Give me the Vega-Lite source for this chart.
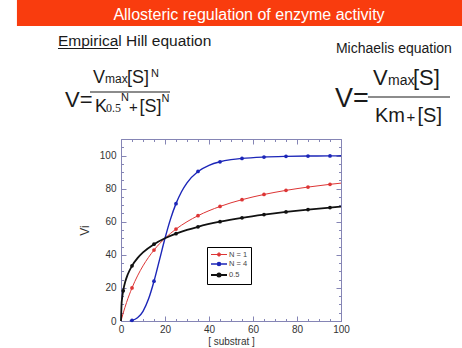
{
  "$schema": "https://vega.github.io/schema/vega-lite/v6.json",
  "autosize": {"type": "none"},
  "padding": {"left": 121, "top": 139, "right": 121, "bottom": 27},
  "width": 220,
  "height": 182,
  "background": "white",
  "config": {
    "view": {"stroke": "#8585b5", "strokeWidth": 1},
    "font": "Liberation Sans",
    "axis": {"grid": false, "domain": false, "labelFlush": false, "tickColor": "#8585b5", "labelFont": "Liberation Sans", "titleFont": "Liberation Sans"}
  },
  "resolve": {"axis": {"x": "independent", "y": "independent"}},
  "layer": [
    {
      "data": {"values": [{"x0": -47.3, "x1": 160, "y0": 178.3, "y1": 200}]},
      "mark": {"type": "rect", "color": "#f93c0e", "clip": false},
      "encoding": {
        "x": {"field": "x0", "type": "quantitative", "scale": {"domain": [0, 100], "nice": false, "zero": false},
              "axis": {"orient": "top", "values": [0, 20, 40, 60, 80, 100], "tickSize": -5, "labels": false, "title": null}},
        "x2": {"field": "x1"},
        "y": {"field": "y0", "type": "quantitative", "scale": {"domain": [0, 110], "nice": false, "zero": false},
              "axis": {"orient": "right", "values": [0, 20, 40, 60, 80, 100], "tickSize": -5, "labels": false, "title": null}},
        "y2": {"field": "y1"}
      }
    },
    {
      "data": {"values": [{"t": "Allosteric regulation of enzyme activity", "s": 58.18, "v": 181.9}]},
      "mark": {"type": "text", "color": "white", "fontSize": 16, "align": "center", "baseline": "alphabetic", "clip": false},
      "encoding": {
        "x": {"field": "s", "type": "quantitative",
              "axis": {"orient": "top", "values": [0,5,10,15,20,25,30,35,40,45,50,55,60,65,70,75,80,85,90,95,100], "tickSize": -2.5, "labels": false, "title": null}},
        "y": {"field": "v", "type": "quantitative",
              "axis": {"orient": "right", "values": [0,5,10,15,20,25,30,35,40,45,50,55,60,65,70,75,80,85,90,95,100,105], "tickSize": -2.5, "labels": false, "title": null}},
        "text": {"field": "t"}
      }
    },
    {
      "data": {"values": [{"t": "Empirical Hill equation", "s": -28.64, "v": 166.2}]},
      "mark": {"type": "text", "color": "#1a1a1a", "fontSize": 15.5, "align": "left", "baseline": "alphabetic", "clip": false},
      "encoding": {
        "x": {"field": "s", "type": "quantitative", "axis": null},
        "y": {"field": "v", "type": "quantitative", "axis": null},
        "text": {"field": "t"}
      }
    },
    {
      "data": {"values": [{"t": "Michaelis equation", "s": 97.7, "v": 161.98}]},
      "mark": {"type": "text", "color": "#1a1a1a", "fontSize": 14, "align": "left", "baseline": "alphabetic", "clip": false},
      "encoding": {
        "x": {"field": "s", "type": "quantitative", "axis": null},
        "y": {"field": "v", "type": "quantitative", "axis": null},
        "text": {"field": "t"}
      }
    },
    {
      "data": {"values": [
        {"s": -28.64, "s2": -1.36, "v": 164.7},
        {"s": -14.09, "s2": 22.27, "v": 138.41},
        {"s": 112.27, "s2": 149.55, "v": 135.39}
      ]},
      "mark": {"type": "rule", "color": "#1a1a1a", "strokeWidth": 1.2, "clip": false},
      "encoding": {
        "x": {"field": "s", "type": "quantitative", "axis": null},
        "x2": {"field": "s2"},
        "y": {"field": "v", "type": "quantitative", "axis": null}
      }
    },
    {
      "data": {"values": [
        {"t": "V=", "s": -25.45, "v": 129.34},
        {"t": "V", "s": 114.55, "v": 142.64},
        {"t": "[S]", "s": 132.73, "v": 142.64}
      ]},
      "mark": {"type": "text", "color": "#1a1a1a", "fontSize": 22, "align": "left", "baseline": "alphabetic", "clip": false},
      "encoding": {
        "x": {"field": "s", "type": "quantitative", "axis": null},
        "y": {"field": "v", "type": "quantitative", "axis": null},
        "text": {"field": "t"}
      }
    },
    {
      "data": {"values": [{"t": "V=", "s": 97.27, "v": 129.34}]},
      "mark": {"type": "text", "color": "#1a1a1a", "fontSize": 27, "align": "left", "baseline": "alphabetic", "clip": false},
      "encoding": {
        "x": {"field": "s", "type": "quantitative", "axis": null},
        "y": {"field": "v", "type": "quantitative", "axis": null},
        "text": {"field": "t"}
      }
    },
    {
      "data": {"values": [
        {"t": "V", "s": -12.73, "v": 143.85},
        {"t": "[S]", "s": 2.73, "v": 143.85},
        {"t": "K", "s": -11.82, "v": 126.32},
        {"t": "[S]", "s": 8.4, "v": 126.32}
      ]},
      "mark": {"type": "text", "color": "#1a1a1a", "fontSize": 18, "align": "left", "baseline": "alphabetic", "clip": false},
      "encoding": {
        "x": {"field": "s", "type": "quantitative", "axis": null},
        "y": {"field": "v", "type": "quantitative", "axis": null},
        "text": {"field": "t"}
      }
    },
    {
      "data": {"values": [
        {"t": "+", "s": 3.64, "v": 126.32},
        {"t": "+", "s": 129.8, "v": 120.28}
      ]},
      "mark": {"type": "text", "color": "#1a1a1a", "fontSize": 15, "align": "left", "baseline": "alphabetic", "clip": false},
      "encoding": {
        "x": {"field": "s", "type": "quantitative", "axis": null},
        "y": {"field": "v", "type": "quantitative", "axis": null},
        "text": {"field": "t"}
      }
    },
    {
      "data": {"values": [
        {"t": "Km", "s": 115.45, "v": 120.28},
        {"t": "[S]", "s": 134.8, "v": 120.28}
      ]},
      "mark": {"type": "text", "color": "#1a1a1a", "fontSize": 20, "align": "left", "baseline": "alphabetic", "clip": false},
      "encoding": {
        "x": {"field": "s", "type": "quantitative", "axis": null},
        "y": {"field": "v", "type": "quantitative", "axis": null},
        "text": {"field": "t"}
      }
    },
    {
      "data": {"values": [{"t": "max", "s": -7.27, "v": 143.85}]},
      "mark": {"type": "text", "color": "#1a1a1a", "fontSize": 12, "align": "left", "baseline": "alphabetic", "clip": false},
      "encoding": {
        "x": {"field": "s", "type": "quantitative", "axis": null},
        "y": {"field": "v", "type": "quantitative", "axis": null},
        "text": {"field": "t"}
      }
    },
    {
      "data": {"values": [{"t": "max", "s": 121.36, "v": 142.64}]},
      "mark": {"type": "text", "color": "#1a1a1a", "fontSize": 14, "align": "left", "baseline": "alphabetic", "clip": false},
      "encoding": {
        "x": {"field": "s", "type": "quantitative", "axis": null},
        "y": {"field": "v", "type": "quantitative", "axis": null},
        "text": {"field": "t"}
      }
    },
    {
      "data": {"values": [
        {"t": "N", "s": 13.64, "v": 147.48},
        {"t": "N", "s": 0.0, "v": 132.97},
        {"t": "N", "s": 18.4, "v": 132.37}
      ]},
      "mark": {"type": "text", "color": "#1a1a1a", "fontSize": 11, "align": "left", "baseline": "alphabetic", "clip": false},
      "encoding": {
        "x": {"field": "s", "type": "quantitative", "axis": null},
        "y": {"field": "v", "type": "quantitative", "axis": null},
        "text": {"field": "t"}
      }
    },
    {
      "data": {"values": [{"t": "0.5", "s": -6.82, "v": 126.32}]},
      "mark": {"type": "text", "color": "#1a1a1a", "font": "Liberation Serif", "fontSize": 12, "align": "left", "baseline": "alphabetic", "clip": false},
      "encoding": {
        "x": {"field": "s", "type": "quantitative", "axis": null},
        "y": {"field": "v", "type": "quantitative", "axis": null},
        "text": {"field": "t"}
      }
    },
    {
      "data": {"values": [
        {"series": "N = 1", "s": 0, "v": 0},
        {"series": "N = 1", "s": 1, "v": 4.76},
        {"series": "N = 1", "s": 2.5, "v": 11.11},
        {"series": "N = 1", "s": 5, "v": 20.0},
        {"series": "N = 1", "s": 7.5, "v": 27.27},
        {"series": "N = 1", "s": 10, "v": 33.33},
        {"series": "N = 1", "s": 15, "v": 42.86},
        {"series": "N = 1", "s": 20, "v": 50.0},
        {"series": "N = 1", "s": 25, "v": 55.56},
        {"series": "N = 1", "s": 30, "v": 60.0},
        {"series": "N = 1", "s": 35, "v": 63.64},
        {"series": "N = 1", "s": 45, "v": 69.23},
        {"series": "N = 1", "s": 55, "v": 73.33},
        {"series": "N = 1", "s": 65, "v": 76.47},
        {"series": "N = 1", "s": 75, "v": 78.95},
        {"series": "N = 1", "s": 85, "v": 80.95},
        {"series": "N = 1", "s": 95, "v": 82.61},
        {"series": "N = 1", "s": 100, "v": 83.33},
        {"series": "N = 4", "s": 4, "v": 0.16},
        {"series": "N = 4", "s": 5, "v": 0.39},
        {"series": "N = 4", "s": 7.5, "v": 1.94},
        {"series": "N = 4", "s": 10, "v": 5.88},
        {"series": "N = 4", "s": 12.5, "v": 13.24},
        {"series": "N = 4", "s": 15, "v": 24.04},
        {"series": "N = 4", "s": 17.5, "v": 36.96},
        {"series": "N = 4", "s": 20, "v": 50.0},
        {"series": "N = 4", "s": 22.5, "v": 61.57},
        {"series": "N = 4", "s": 25, "v": 70.94},
        {"series": "N = 4", "s": 27.5, "v": 78.14},
        {"series": "N = 4", "s": 30, "v": 83.51},
        {"series": "N = 4", "s": 35, "v": 90.37},
        {"series": "N = 4", "s": 40, "v": 94.12},
        {"series": "N = 4", "s": 45, "v": 96.24},
        {"series": "N = 4", "s": 50, "v": 97.5},
        {"series": "N = 4", "s": 55, "v": 98.28},
        {"series": "N = 4", "s": 65, "v": 99.11},
        {"series": "N = 4", "s": 75, "v": 99.5},
        {"series": "N = 4", "s": 85, "v": 99.69},
        {"series": "N = 4", "s": 95, "v": 99.8},
        {"series": "N = 4", "s": 100, "v": 99.84},
        {"series": "0.5", "s": 0, "v": 0},
        {"series": "0.5", "s": 0.25, "v": 10.06},
        {"series": "0.5", "s": 0.5, "v": 13.65},
        {"series": "0.5", "s": 1, "v": 18.27},
        {"series": "0.5", "s": 2, "v": 24.03},
        {"series": "0.5", "s": 3, "v": 27.92},
        {"series": "0.5", "s": 5, "v": 33.33},
        {"series": "0.5", "s": 7.5, "v": 37.98},
        {"series": "0.5", "s": 10, "v": 41.42},
        {"series": "0.5", "s": 15, "v": 46.41},
        {"series": "0.5", "s": 20, "v": 50.0},
        {"series": "0.5", "s": 25, "v": 52.79},
        {"series": "0.5", "s": 30, "v": 55.05},
        {"series": "0.5", "s": 35, "v": 56.95},
        {"series": "0.5", "s": 45, "v": 60.0},
        {"series": "0.5", "s": 55, "v": 62.38},
        {"series": "0.5", "s": 65, "v": 64.32},
        {"series": "0.5", "s": 75, "v": 65.95},
        {"series": "0.5", "s": 85, "v": 67.34},
        {"series": "0.5", "s": 95, "v": 68.55},
        {"series": "0.5", "s": 100, "v": 69.1}
      ]},
      "mark": {"type": "line", "interpolate": "monotone"},
      "encoding": {
        "x": {"field": "s", "type": "quantitative", "scale": {"domain": [0, 100], "nice": false, "zero": false},
              "axis": {"orient": "bottom", "values": [0, 20, 40, 60, 80, 100], "tickSize": -5, "labelPadding": 8, "labelFontSize": 10, "labelColor": "#333", "title": "[ substrat ]", "titleFontSize": 10, "titleFontWeight": "normal", "titleColor": "#333", "titlePadding": 2}},
        "y": {"field": "v", "type": "quantitative", "scale": {"domain": [0, 110], "nice": false, "zero": false},
              "axis": {"orient": "left", "values": [0, 20, 40, 60, 80, 100], "tickSize": -5, "labelPadding": 10, "labelFontSize": 10, "labelColor": "#333", "title": "Vi", "titleFontSize": 12, "titleFontWeight": "normal", "titleColor": "#333", "titlePadding": 8}},
        "color": {"field": "series", "type": "nominal",
                  "scale": {"domain": ["N = 1", "N = 4", "0.5"], "range": ["#dd3535", "#1c26b8", "#111111"]},
                  "legend": {"orient": "none", "legendX": 86, "legendY": 108, "title": null, "strokeColor": "#000", "fillColor": "#fff", "padding": 3, "labelFontSize": 7.5, "labelColor": "#444", "labelFont": "Liberation Sans", "symbolType": "M-2,0H2M0.4,0A0.4,0.4 0 1,1 -0.4,0A0.4,0.4 0 1,1 0.4,0", "symbolSize": 64, "symbolStrokeWidth": 1.2, "symbolOffset": 4, "labelOffset": 5, "rowPadding": 0}},
        "strokeWidth": {"field": "series", "type": "nominal", "scale": {"domain": ["N = 1", "N = 4", "0.5"], "range": [1, 1.8, 1.8]}, "legend": null}
      }
    },
    {
      "data": {"values": [
        {"series": "N = 1", "s": 5, "v": 20.0},
        {"series": "N = 1", "s": 15, "v": 42.86},
        {"series": "N = 1", "s": 25, "v": 55.56},
        {"series": "N = 1", "s": 35, "v": 63.64},
        {"series": "N = 1", "s": 45, "v": 69.23},
        {"series": "N = 1", "s": 55, "v": 73.33},
        {"series": "N = 1", "s": 65, "v": 76.47},
        {"series": "N = 1", "s": 75, "v": 78.95},
        {"series": "N = 1", "s": 85, "v": 80.95},
        {"series": "N = 1", "s": 95, "v": 82.61},
        {"series": "N = 4", "s": 5, "v": 0.39},
        {"series": "N = 4", "s": 15, "v": 24.04},
        {"series": "N = 4", "s": 25, "v": 70.94},
        {"series": "N = 4", "s": 35, "v": 90.37},
        {"series": "N = 4", "s": 45, "v": 96.24},
        {"series": "N = 4", "s": 55, "v": 98.28},
        {"series": "N = 4", "s": 65, "v": 99.11},
        {"series": "N = 4", "s": 75, "v": 99.5},
        {"series": "N = 4", "s": 85, "v": 99.69},
        {"series": "N = 4", "s": 95, "v": 99.8},
        {"series": "0.5", "s": 1, "v": 18.27},
        {"series": "0.5", "s": 5, "v": 33.33},
        {"series": "0.5", "s": 15, "v": 46.41},
        {"series": "0.5", "s": 25, "v": 52.79},
        {"series": "0.5", "s": 35, "v": 56.95},
        {"series": "0.5", "s": 45, "v": 60.0},
        {"series": "0.5", "s": 55, "v": 62.38},
        {"series": "0.5", "s": 65, "v": 64.32},
        {"series": "0.5", "s": 75, "v": 65.95},
        {"series": "0.5", "s": 85, "v": 67.34},
        {"series": "0.5", "s": 95, "v": 68.55}
      ]},
      "mark": {"type": "point", "filled": true, "shape": "circle", "size": 14, "opacity": 1},
      "encoding": {
        "x": {"field": "s", "type": "quantitative",
              "axis": {"orient": "bottom", "values": [0,5,10,15,20,25,30,35,40,45,50,55,60,65,70,75,80,85,90,95,100], "tickSize": -2.5, "labels": false, "title": null}},
        "y": {"field": "v", "type": "quantitative",
              "axis": {"orient": "left", "values": [0,5,10,15,20,25,30,35,40,45,50,55,60,65,70,75,80,85,90,95,100,105], "tickSize": -2.5, "labels": false, "title": null}},
        "color": {"field": "series", "type": "nominal"}
      }
    }
  ]
}
